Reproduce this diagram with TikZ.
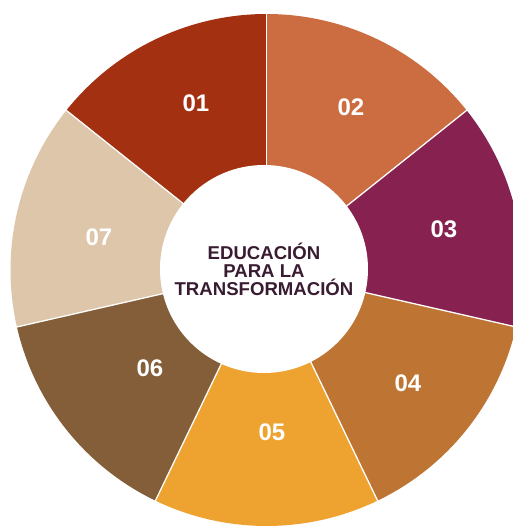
\documentclass[tikz,border=0pt]{standalone}
\usepackage{fontspec}
\setmainfont{Liberation Sans}
\definecolor{cA}{RGB}{163,48,16}
\definecolor{cB}{RGB}{203,109,64}
\definecolor{cC}{RGB}{134,33,80}
\definecolor{cD}{RGB}{190,116,50}
\definecolor{cE}{RGB}{238,162,48}
\definecolor{cF}{RGB}{132,94,56}
\definecolor{cG}{RGB}{221,198,170}
\definecolor{ctext}{RGB}{58,28,50}
\tikzset{
  num/.style={text=white,font=\fontsize{24}{24}\selectfont\bfseries,inner sep=0pt},
  sep/.style={draw=white,line width=1.3pt},
}
\begin{document}
\begin{tikzpicture}[x=1pt,y=1pt]
\useasboundingbox (-266.5,-257) rectangle (246.5,270);
\def\R{256}
\def\r{104}
\foreach \a/\c in {90/cA,38.571/cB,-12.857/cC,-64.286/cD,-115.714/cE,-167.143/cF,141.429/cG}{
  \fill[\c] (0,0) -- (\a:\R) arc[start angle=\a, end angle=\a+51.4286, radius=\R] -- cycle;
}
\foreach \a in {90,38.571,-12.857,-64.286,-115.714,-167.143,141.429}{
  \draw[sep] (\a:\r-5) -- (\a:\R+2);
}
\fill[white] (-2.5,1) circle[radius=\r];
\node[num] (n1) at (-70.5,167) {01};
\node[num] (n2) at (84.5,163) {02};
\node[num] (n3) at (177.5,41) {03};
\node[num] (n4) at (141.5,-113) {04};
\node[num] (n5) at (5.5,-162) {05};
\node[num] (n6) at (-116.5,-98) {06};
\node[num] (n7) at (-167.5,33) {07};
\node[align=center,text=ctext,font=\fontsize{18.6}{18}\selectfont\bfseries,inner sep=0pt] (c) at (-2.5,1) {EDUCACIÓN\\PARA LA\\TRANSFORMACIÓN};
\end{tikzpicture}
\end{document}
